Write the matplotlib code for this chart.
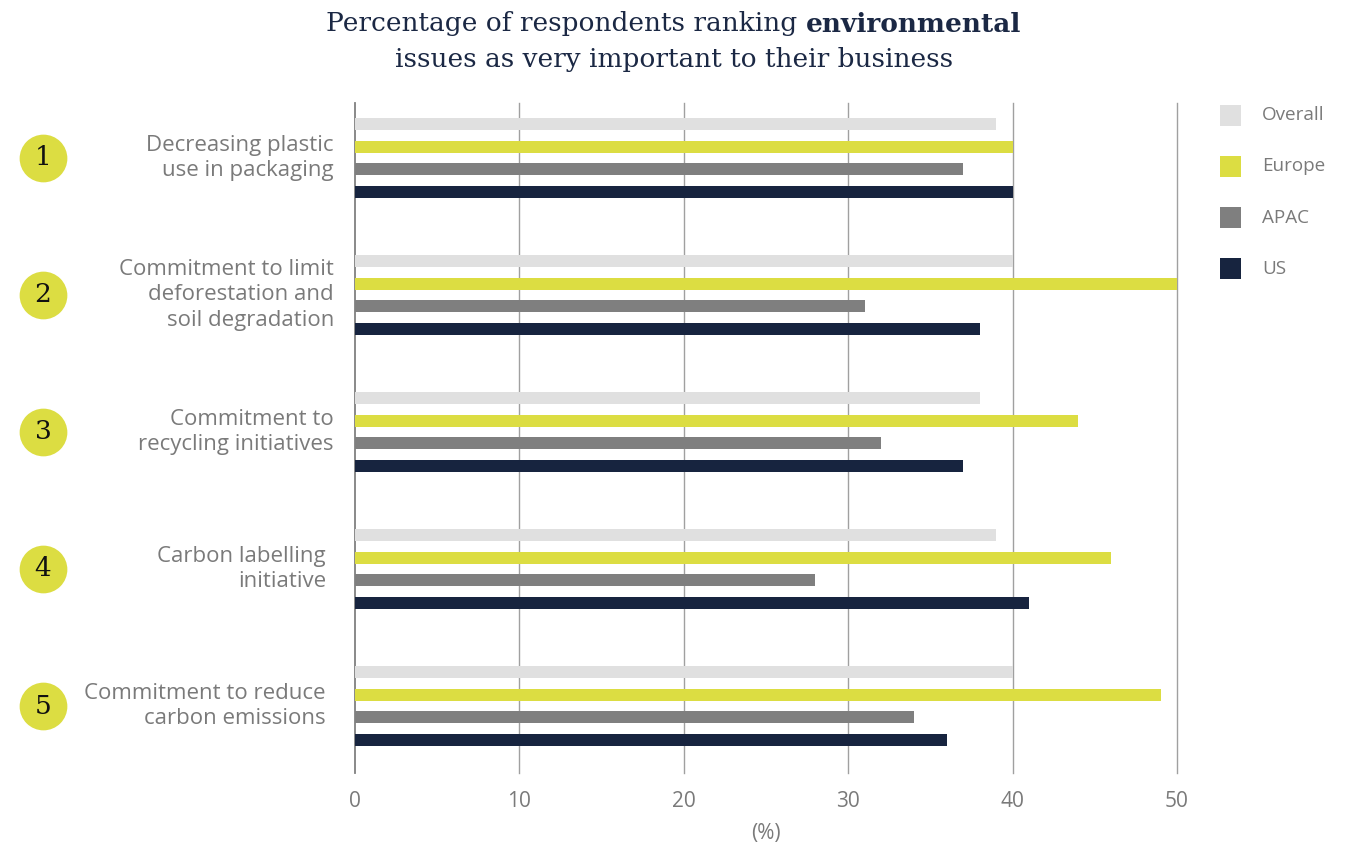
import numpy as np
import matplotlib
matplotlib.use("Agg")
import matplotlib.pyplot as plt
import matplotlib.transforms as mtransforms

issues = [
    "Decreasing plastic\nuse in packaging",
    "Commitment to limit\ndeforestation and\nsoil degradation",
    "Commitment to\nrecycling initiatives",
    "Carbon labelling\ninitiative",
    "Commitment to reduce\ncarbon emissions",
]
regions = ["Overall", "Europe", "APAC", "US"]
overall = [39, 40, 38, 39, 40]
europe = [40, 50, 44, 46, 49]
apac = [37, 31, 32, 28, 34]
us = [40, 38, 37, 41, 36]
xticks = [0, 10, 20, 30, 40, 50]

colors = ["#e0e0e0", "#dcdd42", "#7f7f7f", "#17243f"]
label_grey = "#7a7a7a"
navy = "#1b2844"

plt.rcParams["font.family"] = ["Open Sans", "DejaVu Sans"]

W, H = 1367, 848
fig = plt.figure(figsize=(W / 100, H / 100), dpi=100)
ax = fig.add_axes([355 / W, 1 - 773 / H, (1177 - 355) / W, (773 - 103) / H])

series = [overall, europe, apac, us]
step = 0.166
bar_h = 0.088
y = np.arange(len(issues))
for j, (vals, c) in enumerate(zip(series, colors)):
    ax.barh(y + (j - 1.5) * step, vals, height=bar_h, color=c, zorder=3)

ax.set_xlim(0, 50)
ax.set_ylim(4.489, -0.401)
ax.set_xticks(xticks)
ax.set_xticklabels([str(t) for t in xticks], color=label_grey, fontsize=15)
ax.tick_params(axis="x", length=0, pad=13)
ax.set_yticks([])
for s in ["top", "right", "bottom"]:
    ax.spines[s].set_visible(False)
ax.spines["left"].set_color("#808080")
ax.spines["left"].set_linewidth(1.3)
for t in xticks[1:]:
    ax.axvline(t, color="#a0a0a0", lw=1.0, zorder=1, clip_on=False)

ax.text(0.5, -0.09, "(%)", transform=ax.transAxes, ha="center", va="center",
        color=label_grey, fontsize=15)

# category labels and numbered badges on the left
lbl_trans = mtransforms.blended_transform_factory(fig.transFigure, ax.transData)
label_x = [334, 334, 334, 326, 326]
for i, txt in enumerate(issues):
    ax.text(label_x[i] / W, i, txt, transform=lbl_trans, ha="right", va="center",
            color=label_grey, fontsize=16, linespacing=1.27)
    ax.scatter([43 / W], [i], s=1180, color=colors[1], transform=lbl_trans,
               clip_on=False, zorder=5, linewidths=0)
    ax.text(43 / W, i, str(i + 1), transform=lbl_trans, ha="center", va="center",
            fontsize=19, color="#111111", family="DejaVu Serif", zorder=6)

# legend
for k, (name, c) in enumerate(zip(regions, colors)):
    yc = 115 + k * 51.3
    fig.add_artist(plt.Rectangle((1220 / W, 1 - (yc + 10.5) / H), 21 / W, 21 / H,
                                 transform=fig.transFigure, color=c, lw=0))
    fig.text(1262 / W, 1 - yc / H, name, ha="left", va="center",
             color=label_grey, fontsize=13.6)

# two-line title with one bold word
tfs = 19
tfam = "DejaVu Serif"
renderer = fig.canvas.get_renderer()
part_a = fig.text(0, 1 - 24 / H, "Percentage of respondents ranking ", fontsize=tfs,
                  family=tfam, color=navy, va="center", ha="left")
part_b = fig.text(0, 1 - 24 / H, "environmental", fontsize=tfs, family=tfam,
                  weight="bold", color=navy, va="center", ha="left")
wa = part_a.get_window_extent(renderer).width
wb = part_b.get_window_extent(renderer).width
x0 = 674 - (wa + wb) / 2
part_a.set_x(x0 / W)
part_b.set_x((x0 + wa) / W)
fig.text(674 / W, 1 - 59 / H, "issues as very important to their business",
         fontsize=tfs, family=tfam, color=navy, va="center", ha="center")

fig.savefig("out.png", dpi=100, facecolor="white")
